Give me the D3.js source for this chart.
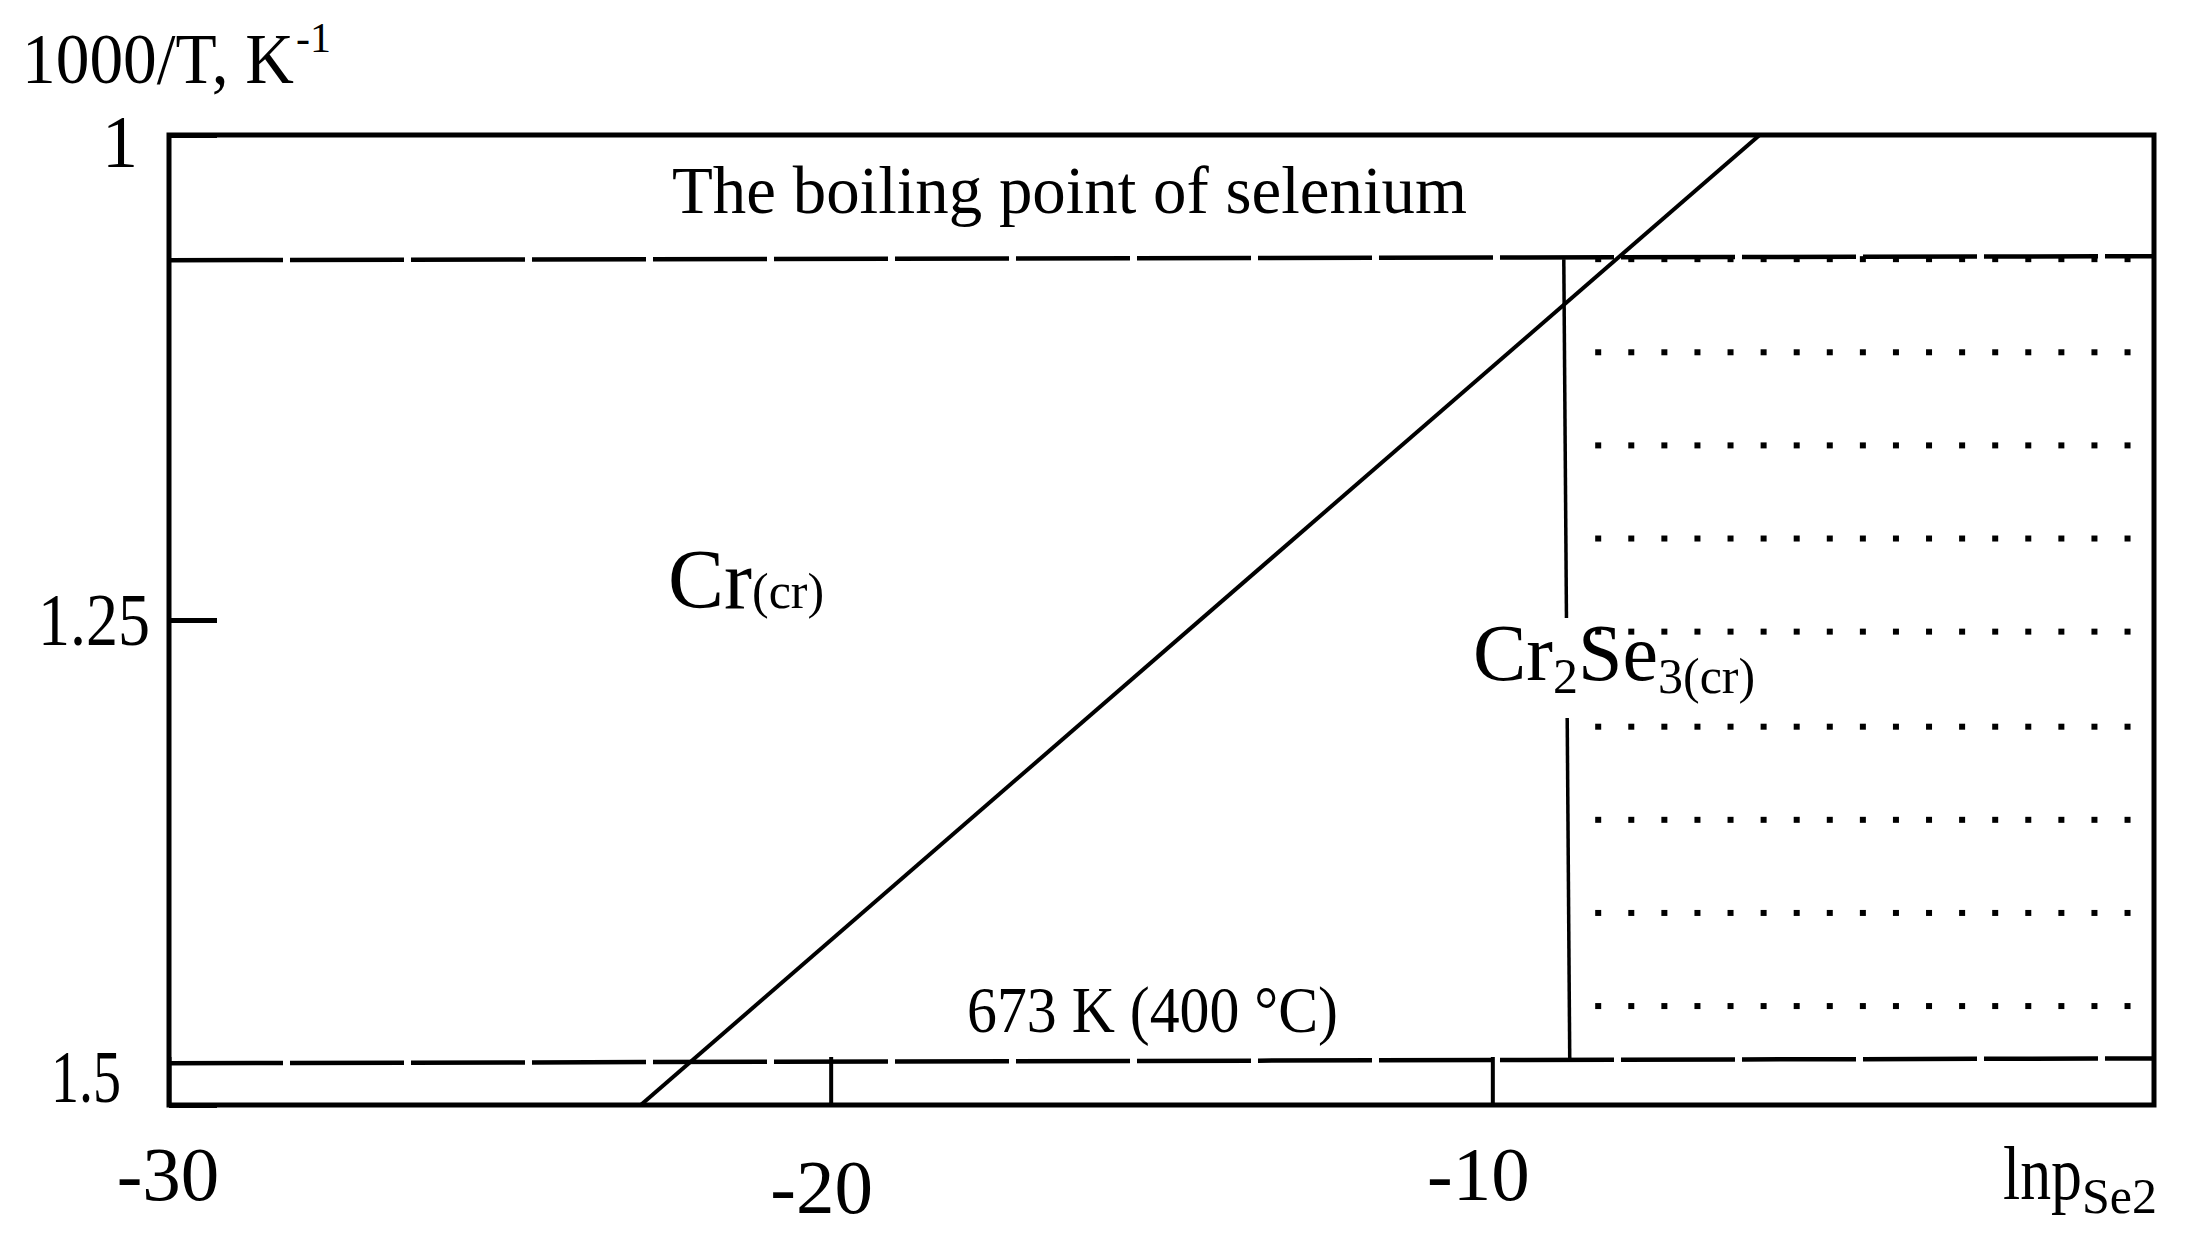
<!DOCTYPE html>
<html><head><meta charset="utf-8">
<script src="https://cdn.jsdelivr.net/npm/d3@7"></script>
<style>
html,body{margin:0;padding:0;background:#fff;}
svg{display:block;}
text{font-family:"Liberation Serif","Times New Roman",serif;fill:#000;}
</style>
</head><body>
<svg id="chart" width="2208" height="1246"></svg>
<script>
// ---------- data ----------
const xDomain = [-30, 0];
const yDomain = [1, 1.5];
const xTicks = [-30, -20, -10];
const xTickLabels = ["-30", "-20", "-10"];
const yTicks = [1, 1.25, 1.5];
const yTickLabels = ["1", "1.25", "1.5"];
const boilingLine = [{x: -30, y: 1.0645}, {x: 0, y: 1.0625}];
const line673 = [{x: -30, y: 1.4785}, {x: 0, y: 1.4760}];
const diagonalBoundary = [{x: -22.87, y: 1.5}, {x: -5.96, y: 1.0}];
const cr2se3Boundary = [{x: -8.92, y: 1.064}, {x: -8.83, y: 1.477}];
const dotRows = [1.064, 1.112, 1.160, 1.208, 1.256, 1.305, 1.353, 1.401, 1.449];
const dotCols = [-8.4, -7.9, -7.4, -6.9, -6.4, -5.9, -5.4, -4.9, -4.4, -3.9, -3.4, -2.9, -2.4, -1.9, -1.4, -0.9, -0.4];
const regionLabels = {
  boiling: "The boiling point of selenium",
  iso: "673 K (400 °C)"
};

// ---------- layout ----------
const plot = {left: 169, right: 2154, top: 135, bottom: 1105};
const svg = d3.select("#chart");
const x = d3.scaleLinear().domain(xDomain).range([plot.left, plot.right]);
const y = d3.scaleLinear().domain(yDomain).range([plot.top, plot.bottom]);
const line = d3.line().x(d => x(d.x)).y(d => y(d.y));

// dashed horizontal lines
[boilingLine, line673].forEach(dl => {
  svg.append("path").attr("d", line(dl))
    .attr("fill", "none").attr("stroke", "#000")
    .attr("stroke-width", 4.5).attr("stroke-dasharray", "114 7");
});

// diagonal boundary
svg.append("path").attr("d", line(diagonalBoundary))
  .attr("fill", "none").attr("stroke", "#000").attr("stroke-width", 4);

// Cr2Se3 label layout
const crLabelX = 1473, crLabelBase = 680;
const gapTop = crLabelBase - 62, gapBot = crLabelBase + 38;
// vertical boundary, broken where the label sits
const bx = d3.scaleLinear().domain([y(cr2se3Boundary[0].y), y(cr2se3Boundary[1].y)])
  .range([cr2se3Boundary[0].x, cr2se3Boundary[1].x]);
const segA = [cr2se3Boundary[0], {x: bx(gapTop), y: y.invert(gapTop)}];
const segB = [{x: bx(gapBot), y: y.invert(gapBot)}, cr2se3Boundary[1]];
[segA, segB].forEach(s => svg.append("path").attr("d", line(s))
  .attr("fill", "none").attr("stroke", "#000").attr("stroke-width", 3.5));

// x ticks (inward, up to the 673 K line)
const tickLen = 48;
const xAxis = d3.axisBottom(x).tickValues(xTicks).tickSizeInner(-tickLen).tickSizeOuter(0).tickFormat("");
const gx = svg.append("g").attr("transform", `translate(0,${plot.bottom})`).call(xAxis);
gx.select(".domain").remove();
gx.selectAll(".tick line").attr("stroke", "#000").attr("stroke-width", 4);

// y ticks (inward)
const yAxis = d3.axisLeft(y).tickValues(yTicks).tickSizeInner(-tickLen).tickSizeOuter(0).tickFormat("");
const gy = svg.append("g").attr("transform", `translate(${plot.left},0)`).call(yAxis);
gy.select(".domain").remove();
gy.selectAll(".tick line").attr("stroke", "#000").attr("stroke-width", 5);

// frame
svg.append("rect").attr("x", plot.left).attr("y", plot.top)
  .attr("width", plot.right - plot.left).attr("height", plot.bottom - plot.top)
  .attr("fill", "none").attr("stroke", "#000").attr("stroke-width", 5);

// dotted Cr2Se3 region
const dots = [];
dotRows.forEach(r => dotCols.forEach(c => dots.push({x: c, y: r})));
svg.append("g").selectAll("rect").data(dots).join("rect")
  .attr("x", d => x(d.x) - 3).attr("y", d => y(d.y) - 3)
  .attr("width", 6).attr("height", 6).attr("fill", "#000");

// x tick labels
const xLabelDx = [-1, -9, -14], xLabelBase = [1200, 1213, 1200];
svg.append("g").selectAll("text").data(xTicks).join("text")
  .attr("x", (d, i) => x(d) + xLabelDx[i]).attr("y", (d, i) => xLabelBase[i])
  .attr("text-anchor", "middle").attr("font-size", 77)
  .text((d, i) => xTickLabels[i]);

// y tick labels
const yLabelRight = [138, 150, 121], yLabelBase = [167, 645, 1102], yLabelLen = [36, 112, 70];
svg.append("g").selectAll("text").data(yTicks).join("text")
  .attr("x", (d, i) => yLabelRight[i] - yLabelLen[i]).attr("y", (d, i) => yLabelBase[i])
  .attr("font-size", 73)
  .attr("textLength", (d, i) => yLabelLen[i]).attr("lengthAdjust", "spacingAndGlyphs")
  .text((d, i) => yTickLabels[i]);

// axis titles (with super/subscripts as tspans)
const yt = svg.append("text").attr("x", 22).attr("y", 83);
yt.append("tspan").attr("font-size", 72).attr("textLength", 272)
  .attr("lengthAdjust", "spacingAndGlyphs").text("1000/T, K");
yt.append("tspan").attr("font-size", 42).attr("dx", 2).attr("dy", -31).text("-1");

const xt = svg.append("text").attr("x", 2003).attr("y", 1199);
xt.append("tspan").attr("font-size", 77).attr("textLength", 79)
  .attr("lengthAdjust", "spacingAndGlyphs").text("lnp");
xt.append("tspan").attr("font-size", 50).attr("dy", 14).text("Se2");

// region labels
svg.append("text").attr("x", 672).attr("y", 213).attr("font-size", 68)
  .attr("textLength", 795).attr("lengthAdjust", "spacingAndGlyphs").text(regionLabels.boiling);
svg.append("text").attr("x", 967).attr("y", 1032).attr("font-size", 66)
  .attr("textLength", 371).attr("lengthAdjust", "spacingAndGlyphs").text(regionLabels.iso);

const t1 = svg.append("text").attr("x", 668).attr("y", 608);
t1.append("tspan").attr("font-size", 84).text("Cr");
t1.append("tspan").attr("font-size", 50).text("(cr)");

const t2 = svg.append("text").attr("x", crLabelX).attr("y", crLabelBase);
t2.append("tspan").attr("font-size", 80).text("Cr");
t2.append("tspan").attr("font-size", 50).attr("dy", 13).text("2");
t2.append("tspan").attr("font-size", 80).attr("dy", -13).text("Se");
t2.append("tspan").attr("font-size", 50).attr("dy", 13).text("3(cr)");
</script>
</body></html>
